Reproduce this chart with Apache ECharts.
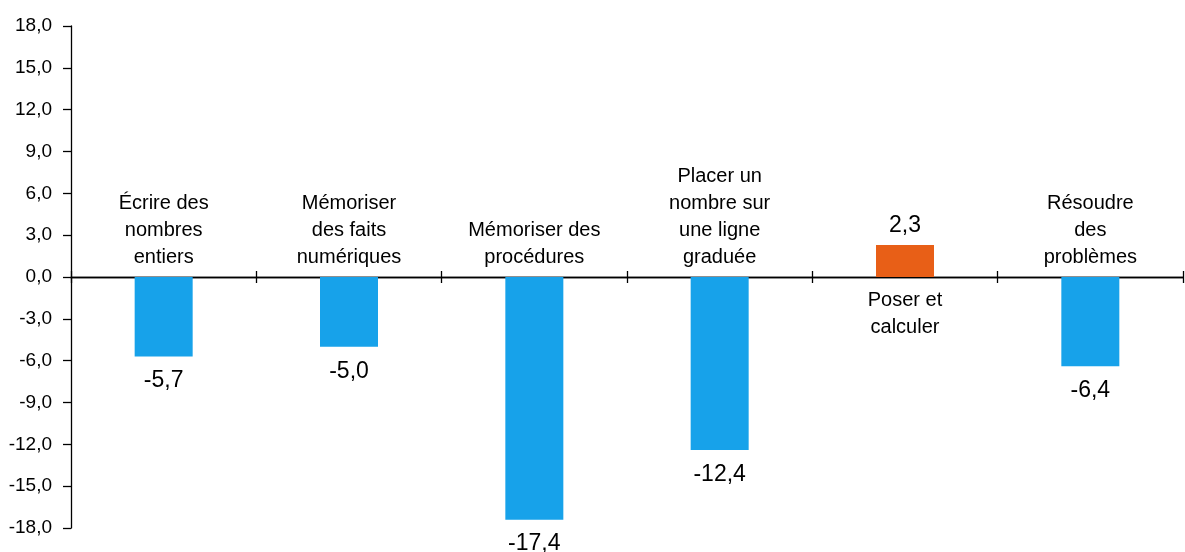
<!DOCTYPE html>
<html><head><meta charset="utf-8">
<script src="https://cdn.jsdelivr.net/npm/echarts@6/dist/echarts.min.js"></script>
<style>html,body{margin:0;padding:0;background:#fff}#c{width:1185px;height:552px}</style>
</head><body><div id="c"></div>
<script>
const categories = ["Écrire des\nnombres\nentiers", "Mémoriser\ndes faits\nnumériques", "Mémoriser des\nprocédures", "Placer un\nnombre sur\nune ligne\ngraduée", "Poser et\ncalculer", "Résoudre\ndes\nproblèmes"];
const values = [-5.7, -5.0, -17.4, -12.4, 2.3, -6.4];
const barColors = ["#17A2EA", "#17A2EA", "#17A2EA", "#17A2EA", "#E85F17", "#17A2EA"];
const yMin = -18, yMax = 18, yStep = 3;

const FONT = "'Liberation Sans', Arial, sans-serif";
const fmt = v => v.toFixed(1).replace('.', ',');

const chart = echarts.init(document.getElementById('c'), null, {renderer: 'canvas'});
chart.setOption({
  animation: false,
  backgroundColor: '#fff',
  grid: {left: 71, right: 2, top: 26, bottom: 24, containLabel: false},
  xAxis: [{
    type: 'category', data: categories, position: 'bottom',
    axisLine: {onZero: true, onZeroAxisIndex: 0, lineStyle: {color: '#000', width: 1.3}},
    axisTick: {show: true, inside: false, length: 6, lineStyle: {color: '#000', width: 1.3}},
    axisLabel: {show: false}, splitLine: {show: false}
  }, {
    type: 'category', data: categories, position: 'top',
    axisLine: {onZero: true, onZeroAxisIndex: 1, lineStyle: {color: '#000', width: 1.3}},
    axisTick: {show: true, inside: false, length: 6, lineStyle: {color: '#000', width: 1.3}},
    axisLabel: {show: false}, splitLine: {show: false}
  }],
  yAxis: [{
    type: 'value', min: yMin, max: yMax, interval: yStep, position: 'left',
    axisLine: {show: true, lineStyle: {color: '#000', width: 1.3}},
    axisTick: {show: true, length: 8, lineStyle: {color: '#000', width: 1.3}},
    axisLabel: {color: '#000', fontFamily: FONT, fontSize: 19, margin: 19, formatter: v => fmt(v)},
    splitLine: {show: false}
  }, {
    type: 'value', min: yMin, max: yMax, interval: yStep, position: 'right',
    axisLine: {show: false}, axisTick: {show: false}, axisLabel: {show: false},
    splitLine: {show: false}
  }],
  series: [{
    type: 'bar', xAxisIndex: 0, yAxisIndex: 0, barWidth: 58,
    data: values.map((v, i) => ({value: v, itemStyle: {color: barColors[i]},
      label: {position: v < 0 ? 'bottom' : 'top', distance: v < 0 ? 13 : 8}})),
    label: {show: true, color: '#000', fontFamily: FONT, fontSize: 23,
      formatter: p => fmt(p.value)}
  }, {
    type: 'scatter', xAxisIndex: 0, yAxisIndex: 0, symbolSize: 0, silent: true,
    itemStyle: {opacity: 1},
    data: values.map((v, i) => ({value: [i, 0],
      label: {position: v < 0 ? 'top' : 'bottom', distance: v < 0 ? 6 : 10}})),
    label: {show: true, color: '#000', fontFamily: FONT, fontSize: 20, lineHeight: 27,
      align: 'center', formatter: p => categories[p.value[0]]}
  }]
});
</script></body></html>
